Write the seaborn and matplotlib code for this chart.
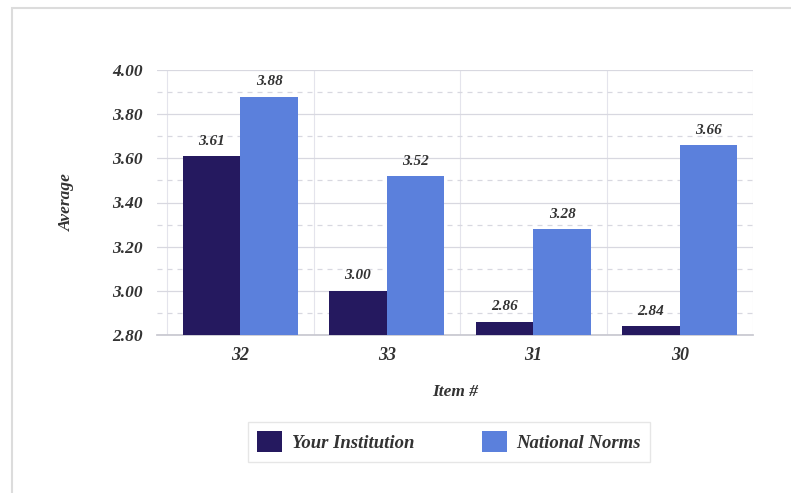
import matplotlib
matplotlib.use("Agg")
import matplotlib.pyplot as plt
import seaborn as sns
import pandas as pd
from matplotlib.patches import Rectangle
from matplotlib.ticker import MultipleLocator

items = ["32", "33", "31", "30"]
your_institution = [3.61, 3.00, 2.86, 2.84]
national_norms = [3.88, 3.52, 3.28, 3.66]
series_names = ["Your Institution", "National Norms"]
colors = ["#25195f", "#5b80dc"]

df = pd.DataFrame({
    "Item #": items * 2,
    "Average": your_institution + national_norms,
    "Series": [series_names[0]] * len(items) + [series_names[1]] * len(items),
})

sns.set_theme(style="white")
plt.rcParams["font.family"] = ["Liberation Serif", "DejaVu Serif"]

fig = plt.figure(figsize=(7.91, 4.93), dpi=100)
ax = fig.add_axes([157 / 791, 1 - 335 / 493, (753 - 157) / 791, (335 - 70) / 493])

sns.barplot(data=df, x="Item #", y="Average", hue="Series", order=items,
            hue_order=series_names, palette=colors, width=0.785, ax=ax,
            saturation=1, linewidth=0, zorder=3)

ax.set_ylim(2.80, 4.00)
ax.yaxis.set_major_locator(MultipleLocator(0.2))
ax.yaxis.set_minor_locator(MultipleLocator(0.1))
ax.grid(which="major", axis="y", color="#d8d8e0", linewidth=0.9, zorder=0)
ax.grid(which="minor", axis="y", color="#d8d8e0", linewidth=0.9, linestyle=(0, (4, 4)), zorder=0)
ax.set_axisbelow(True)
for x in [-0.5, 0.5, 1.5, 2.5, 3.5]:
    ax.axvline(x, color="#e4e4ec", linewidth=0.8, zorder=0)
ax.set_xlim(-0.5 - 10 / 146.5, 3.5)

for s in ["top", "right", "left"]:
    ax.spines[s].set_visible(False)
ax.spines["bottom"].set_color("#c8c8d0")

yt = [2.8, 3.0, 3.2, 3.4, 3.6, 3.8, 4.0]
ax.set_yticks(yt)
ax.set_yticklabels([f"{v:.2f}" for v in yt],
                   fontsize=12.5, fontweight="bold", fontstyle="italic", color="#333333")
ax.set_xticks(range(len(items)))
ax.set_xticklabels(items, fontsize=13, fontweight="bold", fontstyle="italic", color="#333333")
ax.tick_params(axis="both", which="both", length=0)
ax.tick_params(axis="y", pad=10)
ax.tick_params(axis="x", pad=9)

ax.set_ylabel("Average", fontsize=12.5, fontweight="bold", fontstyle="italic", color="#333333", labelpad=27)
ax.set_xlabel("Item #", fontsize=12.5, fontweight="bold", fontstyle="italic", color="#333333", labelpad=14)

for cont in ax.containers:
    ax.bar_label(cont, labels=[f"{v:.2f}" for v in cont.datavalues], padding=6,
                 fontsize=11, fontweight="bold", fontstyle="italic", color="#333333")

leg = ax.legend(loc="upper center", bbox_to_anchor=(449 / 791, 1 - 422 / 493),
                bbox_transform=fig.transFigure, ncol=2, frameon=True, fancybox=False,
                fontsize=13.5, handlelength=1.35, handleheight=1.35, columnspacing=3.6,
                borderpad=0.5, handletextpad=0.5, borderaxespad=0)
leg.get_frame().set_edgecolor("#e0e0e0")
leg.get_frame().set_linewidth(1.0)
for t in leg.get_texts():
    t.set_fontweight("bold")
    t.set_fontstyle("italic")
    t.set_color("#333333")

# outer frame
fig.patches.append(Rectangle((12 / 791, -0.05), 1.1, 1 - 8 / 493 + 0.05, transform=fig.transFigure,
                             fill=False, edgecolor="#dcdcdc", linewidth=1.5, zorder=-1))

fig.savefig("out.png", dpi=100)
